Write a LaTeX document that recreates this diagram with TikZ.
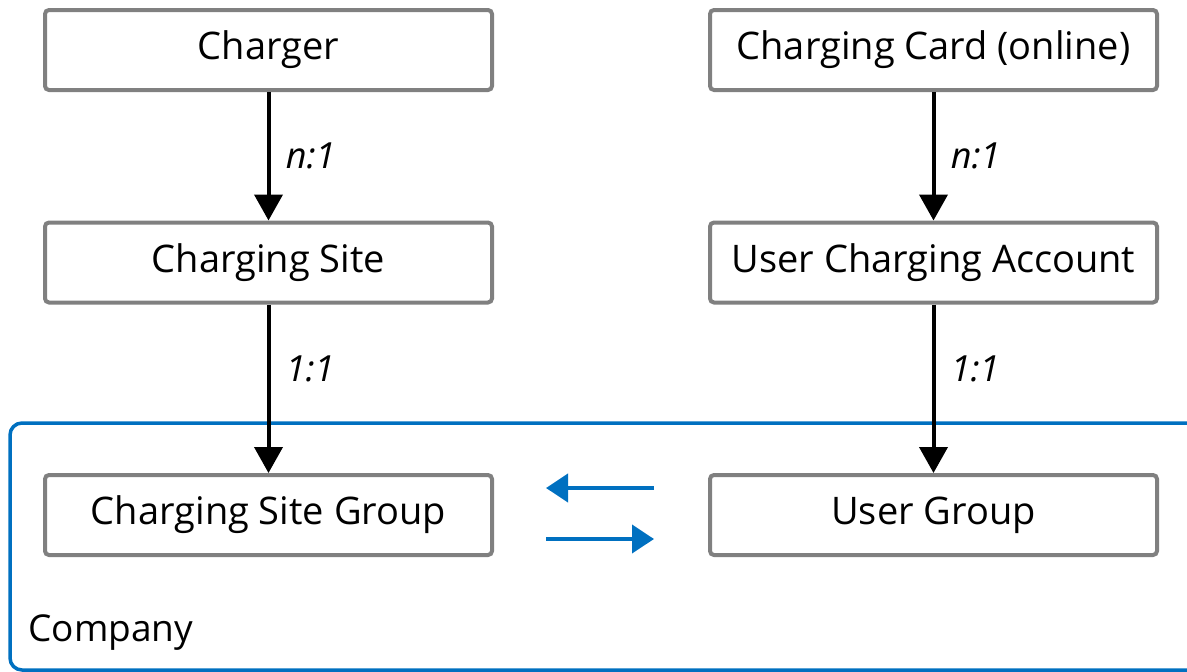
\documentclass[tikz,border=0pt]{standalone}
\usepackage{fontspec}
\setmainfont{Open Sans}
\usetikzlibrary{arrows.meta, positioning, calc}

\begin{document}
\begin{tikzpicture}[x=1pt, y=-1pt, font=\fontsize{38}{44}\selectfont, >={Triangle[width=28pt,length=26pt]},
    entity/.style={draw=gray, line width=4pt, rounded corners=4pt, minimum width=447pt, minimum height=80pt, align=center, inner sep=0pt},
    rel/.style={->, line width=4pt},
    card/.style={right=12pt, font=\fontsize{36}{42}\selectfont\itshape},
    sync/.style={->, line width=4pt, draw=abbblue, >={Triangle[width=28pt,length=22pt]}}
]
    \definecolor{abbblue}{HTML}{0070C0}
    \useasboundingbox (0,0) rectangle (1187,672);
    % company frame
    \draw[abbblue, line width=3.5pt, rounded corners=12pt] (10,423) rectangle (1210,670);
    \node[anchor=west, font=\fontsize{37}{43}\selectfont] (company) at (25,633) {Company};
    % left column
    \node[entity] (charger) at (268.5,50) {Charger};
    \node[entity] (site) at (268.5,262.5) {Charging Site};
    \node[entity] (sitegroup) at (268.5,515) {Charging Site Group};
    % right column
    \node[entity] (card) at (933.5,50) {Charging Card (online)};
    \node[entity] (account) at (933.5,262.5) {User Charging Account};
    \node[entity] (usergroup) at (933.5,515) {User Group};
    \draw[rel] (charger) -- node[card] {n:1} (site);
    \draw[rel] (site) -- node[card, pos=0.38] {1:1} (sitegroup);
    \draw[rel] (card) -- node[card] {n:1} (account);
    \draw[rel] (account) -- node[card, pos=0.38] {1:1} (usergroup);
    \draw[sync] ([xshift=-54pt, yshift=27pt]usergroup.west) -- ([xshift=52pt, yshift=27pt]sitegroup.east);
    \draw[sync] ([xshift=52pt, yshift=-24pt]sitegroup.east) -- ([xshift=-54pt, yshift=-24pt]usergroup.west);
\end{tikzpicture}
\end{document}
